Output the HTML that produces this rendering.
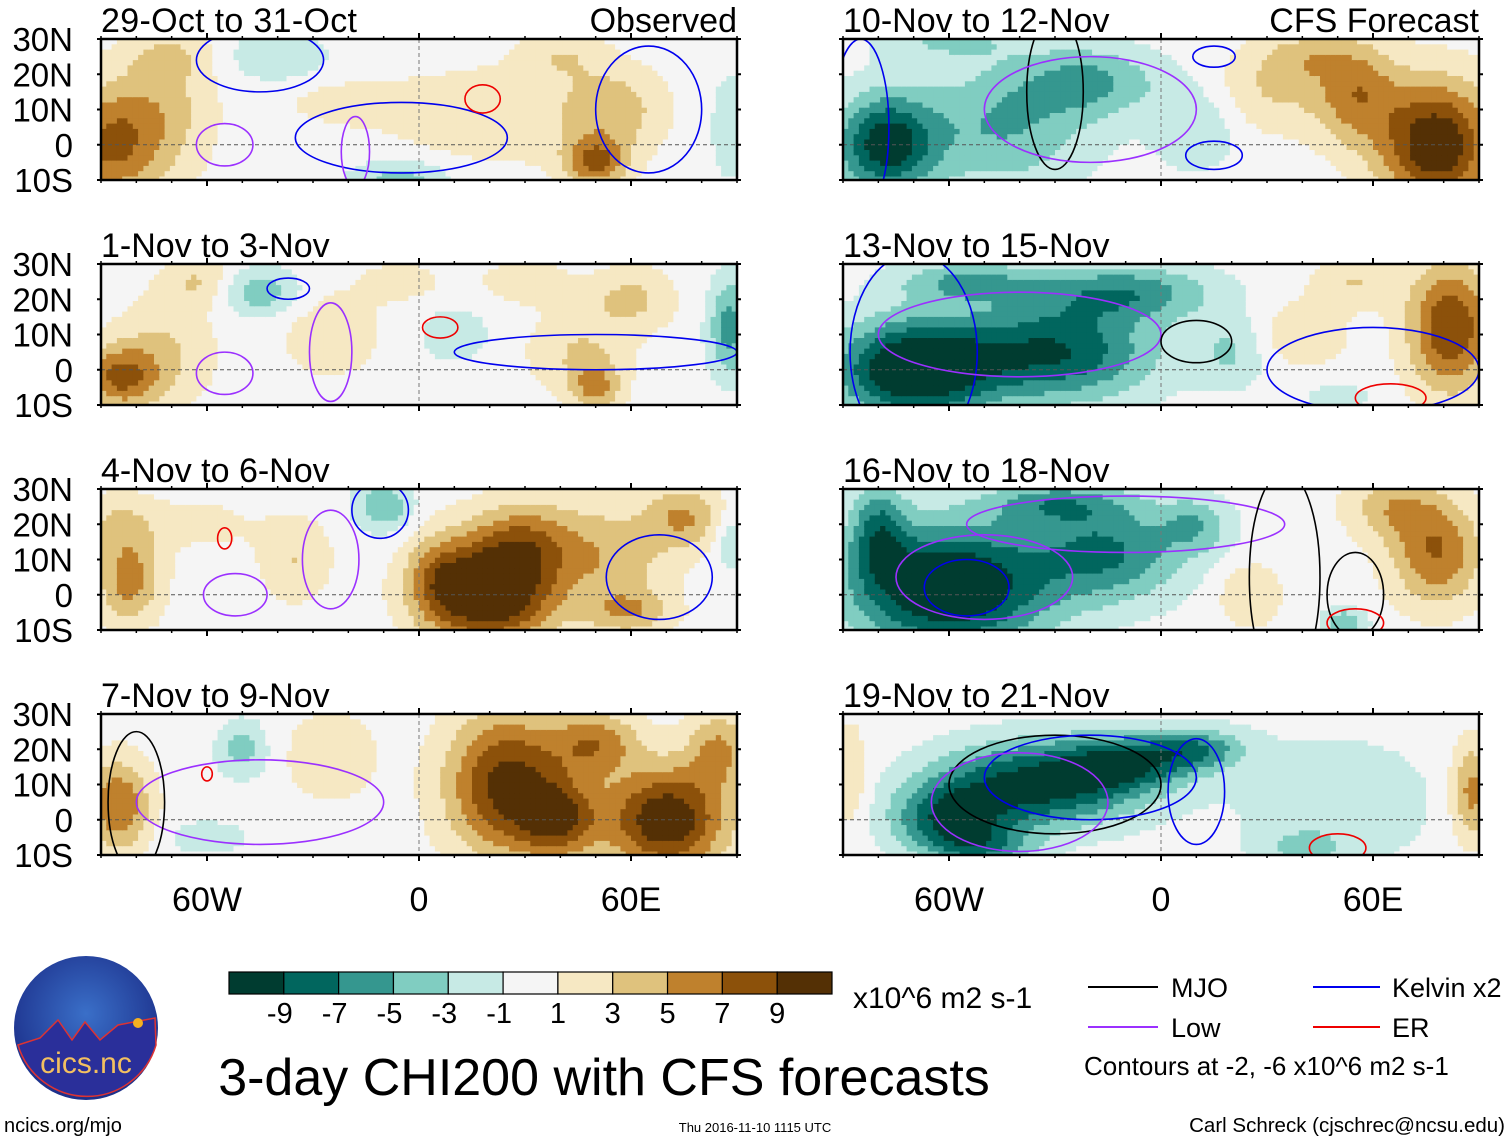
<!DOCTYPE html>
<html><head><meta charset="utf-8">
<style>
body{margin:0;background:#fff;width:1510px;height:1142px;overflow:hidden;font-family:"Liberation Sans",sans-serif}
svg{position:absolute;left:0;top:0}
</style></head>
<body>
<svg id="chart" width="1510" height="1142" xmlns="http://www.w3.org/2000/svg" font-family="Liberation Sans, sans-serif"></svg>
<script>
// ---- data ----
const panelTitles = ["29-Oct to 31-Oct","1-Nov to 3-Nov","4-Nov to 6-Nov","7-Nov to 9-Nov","10-Nov to 12-Nov","13-Nov to 15-Nov","16-Nov to 18-Nov","19-Nov to 21-Nov"];
const colorLevels = [-9,-7,-5,-3,-1,1,3,5,7,9];
const colorBins = ["#003c30","#01665e","#35978f","#80cdc1","#c7eae5","#f5f5f5","#f6e8c3","#dfc27d","#bf812d","#8c510a","#543005"];
const latTicks = [30,20,10,0,-10];
const latTickLabels = ["30N","20N","10N","0","10S"];
const lonTicks = [-60,0,60];
const lonTickLabels = ["60W","0","60E"];
// anomaly blobs per panel: [lon, lat, amplitude, rLon, rLat]
const blobs0 = [[-88,0,7,14,16],[-72,10,3.5,14,20],[-40,25,-3,14,7],[-5,-10,-4,14,6],[-20,12,2,18,6],[20,8,2.5,30,14],[50,-5,7,9,7],[55,10,4,14,12],[40,25,2.5,12,7],[88,5,-3,5,14],[-70,25,2,12,6]];
const blobs1 = [[-85,-2,7,11,9],[-72,5,3,14,16],[-45,22,-4.5,11,7],[-62,25,3,10,7],[-25,10,2.5,14,12],[10,10,-2.5,10,8],[88,12,-6,6,14],[45,5,3,14,12],[60,20,3.5,12,9],[50,-5,5,7,7],[30,25,2.5,12,6],[-5,25,2,12,6]];
const blobs2 = [[-82,4,6,9,12],[-85,20,3,12,9],[-10,25,-5,8,7],[-35,10,3,10,12],[20,0,12,18,14],[30,15,6,16,12],[5,5,4,9,12],[55,10,4,16,16],[75,22,5,11,9],[88,15,-3,4,8],[60,-5,4,12,6],[-60,20,1.5,15,8]];
const blobs3 = [[-85,4,7,9,13],[-50,20,-4,7,8],[-25,18,3,12,12],[25,10,10,17,20],[70,0,11,17,15],[50,22,6,12,9],[40,0,7,11,11],[85,20,5,9,11],[-60,-5,-2.2,12,5]];
const blobs4 = [[-78,0,-10,14,14],[-45,5,-5,25,18],[-20,18,-5,20,10],[10,5,-3,12,12],[30,15,3,16,12],[78,0,11,16,18],[55,15,6,12,15],[40,25,3,12,7],[-60,30,-3,20,6]];
const blobs5 = [[-70,0,-12,22,14],[-30,5,-9,28,14],[-10,22,-6,25,8],[-55,25,-5,20,6],[40,10,3,12,9],[82,12,9,12,18],[55,25,3,12,7],[50,-8,-3,8,4],[20,5,-3,10,10]];
const blobs6 = [[-60,2,-12,28,18],[-15,12,-7,22,14],[-30,26,-5,20,6],[-80,18,-6,8,14],[25,0,3,9,9],[78,12,7,13,15],[65,25,4,13,9],[52,-8,-5,6,4],[10,20,-4,10,8]];
const blobs7 = [[-35,10,-10,28,12],[-60,0,-8,16,10],[-10,16,-7,18,8],[10,20,-6,14,6],[50,5,-2.2,30,20],[-88,12,3,5,15],[88,8,6,6,14],[40,-8,-3,12,5],[-50,-8,-5,14,6]];
const panelBlobs = [blobs0,blobs1,blobs2,blobs3,blobs4,blobs5,blobs6,blobs7];
// contours per panel: [type, lon, lat, rLon, rLat]
const contours0 = [["kelvin",-45,24,18,9],["kelvin",-5,2,30,10],["low",-55,0,8,6],["low",-18,-2,4,10],["er",18,13,5,4],["kelvin",65,10,15,18]];
const contours1 = [["kelvin",-37,23,6,3],["low",-55,-1,8,6],["low",-25,5,6,14],["er",6,12,5,3],["kelvin",50,5,40,5]];
const contours2 = [["er",-55,16,2,3],["low",-52,0,9,6],["low",-25,10,8,14],["kelvin",-11,24,8,8],["kelvin",68,5,15,12]];
const contours3 = [["er",-60,13,1.5,2],["low",-45,5,35,12],["mjo",-80,5,8,20]];
const contours4 = [["kelvin",-85,5,8,25],["mjo",-30,15,8,22],["low",-20,10,30,15],["kelvin",15,-3,8,4],["kelvin",15,25,6,3]];
const contours5 = [["kelvin",-70,5,18,28],["low",-40,10,40,12],["mjo",10,8,10,6],["kelvin",60,0,30,12],["er",65,-8,10,4]];
const contours6 = [["kelvin",-55,2,12,8],["low",-50,5,25,12],["low",-10,20,45,8],["mjo",35,5,10,30],["mjo",55,0,8,12],["er",55,-8,8,4]];
const contours7 = [["mjo",-30,10,30,14],["kelvin",-20,12,30,12],["low",-40,5,25,14],["kelvin",10,8,8,15],["er",50,-8,8,4]];
const panelContours = [contours0,contours1,contours2,contours3,contours4,contours5,contours6,contours7];
const contourColors = {mjo:"#000",kelvin:"#0000ee",low:"#9b30ff",er:"#ee0000"};

// ---- layout ----
const NS="http://www.w3.org/2000/svg";
const svg=document.getElementById('chart');
function mk(t,a,p){const e=document.createElementNS(NS,t);for(const k in a)e.setAttribute(k,a[k]);(p||svg).appendChild(e);return e;}
const colX=[101,843], rowY=[39,264,489,714], PW=636, PH=141;
function xScale(c,lon){return colX[c]+(lon+90)/180*PW;}
function yScale(r,lat){return rowY[r]+(30-lat)/40*PH;}
function binColor(v){let i=0;while(i<colorLevels.length&&v>=colorLevels[i])i++;return colorBins[i];}

const defs=mk('defs',{});
for(let p=0;p<8;p++){
  const c=p<4?0:1, r=p%4;
  const g=mk('g',{});
  
  
  const cp=mk('clipPath',{id:'clip'+p},defs);
  mk('rect',{x:colX[c],y:rowY[r],width:PW,height:PH},cp);
  const fg=mk('g',{'clip-path':'url(#clip'+p+')'},g);
  
  
  const step=1.5;
  for(let lon=-90;lon<90;lon+=step){
    for(let lat=30;lat>-10;lat-=step){
      const lo=lon+step/2, la=lat-step/2;
      let v=0;
      for(const b of panelBlobs[p]){const dx=(lo-b[0])/b[3],dy=(la-b[1])/b[4];v+=b[2]*Math.exp(-(dx*dx+dy*dy));}
      const x0=xScale(c,lon),x1=xScale(c,lon+step),y0=yScale(r,lat),y1=yScale(r,lat-step);
      const cell=mk('rect',{x:x0.toFixed(1),y:y0.toFixed(1),width:(x1-x0+0.6).toFixed(1),height:(y1-y0+0.6).toFixed(1),fill:binColor(v)},fg);
      
      
    }
  }
  mk('line',{x1:colX[c],x2:colX[c]+PW,y1:yScale(r,0),y2:yScale(r,0),stroke:'#555','stroke-dasharray':'4,3','stroke-width':1},fg);
  mk('line',{x1:xScale(c,0),x2:xScale(c,0),y1:rowY[r],y2:rowY[r]+PH,stroke:'#777','stroke-dasharray':'4,3','stroke-width':1},fg);
  for(const ct of panelContours[p]){
    const cx=xScale(c,ct[1]),cy=yScale(r,ct[2]),rx=ct[3]/180*PW,ry=ct[4]/40*PH;
    const e=mk('ellipse',{cx:cx,cy:cy,rx:rx,ry:ry,fill:'none',stroke:contourColors[ct[0]],'stroke-width':1.6},fg);
    
    
  }
  const fr=mk('rect',{x:colX[c],y:rowY[r],width:PW,height:PH,fill:'none',stroke:'#000','stroke-width':2.5},g);
  
  
  for(let lon=-90;lon<=90;lon+=10){
    const x=xScale(c,lon), big=lon%60===0;
    mk('line',{x1:x,x2:x,y1:rowY[r]+PH,y2:rowY[r]+PH+(big?6:3),stroke:'#000','stroke-width':big?2:1.5},g);
    mk('line',{x1:x,x2:x,y1:rowY[r],y2:rowY[r]-(big?6:3),stroke:'#000','stroke-width':big?2:1.5},g);
  }
  for(let lat=-10;lat<=30;lat+=10){
    const y=yScale(r,lat);
    mk('line',{x1:colX[c]-4,x2:colX[c],y1:y,y2:y,stroke:'#000','stroke-width':2},g);
    mk('line',{x1:colX[c]+PW,x2:colX[c]+PW+4,y1:y,y2:y,stroke:'#000','stroke-width':2},g);
  }
  const t=mk('text',{x:colX[c],y:rowY[r]-7,'font-size':34,textLength:colX[c]===101&&p===0?256:null},g);
  if(!t.getAttribute('textLength')||t.getAttribute('textLength')==='null')t.removeAttribute('textLength');
  t.textContent=panelTitles[p];
  
  
  if(r===0){const s=mk('text',{x:colX[c]+PW,y:rowY[r]-7,'font-size':34,'text-anchor':'end'},g);s.textContent=c===0?'Observed':'CFS Forecast';
    
    }
  if(c===0){
    latTicks.forEach((lat,i)=>{const l=mk('text',{x:73,y:yScale(r,lat)+12,'font-size':33,'text-anchor':'end'},g);l.textContent=latTickLabels[i];
      
      });
  }
  if(r===3){
    lonTicks.forEach((lon,i)=>{const l=mk('text',{x:xScale(c,lon),y:911,'font-size':34,'text-anchor':'middle'},g);l.textContent=lonTickLabels[i];
      
      });
  }
}
const cb=mk('g',{});


const cbX=229,cbW=603,cbY=972,cbH=22,bw=cbW/colorBins.length;
colorBins.forEach((col,i)=>{const b=mk('rect',{x:cbX+i*bw,y:cbY,width:bw,height:cbH,fill:col,stroke:'#000','stroke-width':1.2},cb);
  
  });
colorLevels.forEach((lv,i)=>{const t=mk('text',{x:cbX+(i+1)*bw-(lv<0?4:0),y:1023,'font-size':29,'text-anchor':'middle'},cb);t.textContent=String(lv);
  
  });
</script>
<svg width="1510" height="1142" xmlns="http://www.w3.org/2000/svg" font-family="Liberation Sans, sans-serif" style="pointer-events:none">
 <text x="853" y="1008" font-size="30">x10^6 m2 s-1</text>
 <text x="604" y="1095" font-size="52" text-anchor="middle">3-day CHI200 with CFS forecasts</text>
 <g font-size="27">
  <line x1="1088" y1="987" x2="1158" y2="987" stroke="#000" stroke-width="2"/><text x="1171" y="997">MJO</text>
  <line x1="1313" y1="987" x2="1380" y2="987" stroke="#0000ee" stroke-width="2"/><text x="1392" y="997">Kelvin x2</text>
  <line x1="1088" y1="1027" x2="1158" y2="1027" stroke="#9b30ff" stroke-width="2"/><text x="1171" y="1037">Low</text>
  <line x1="1313" y1="1027" x2="1380" y2="1027" stroke="#ee0000" stroke-width="2"/><text x="1392" y="1037">ER</text>
  <text x="1084" y="1075" font-size="26">Contours at -2, -6 x10^6 m2 s-1</text>
 </g>
 <text x="1505" y="1132" font-size="20.5" text-anchor="end">Carl Schreck (cjschrec@ncsu.edu)</text>
 <text x="755" y="1132" font-size="13" text-anchor="middle">Thu 2016-11-10 1115 UTC</text>
 <text x="4" y="1132" font-size="20">ncics.org/mjo</text>
 <g>
  <defs><radialGradient id="lg" cx="50%" cy="40%" r="60%"><stop offset="0" stop-color="#3a6fc8"/><stop offset="1" stop-color="#1c2f8a"/></radialGradient></defs>
  <circle cx="86" cy="1028" r="72" fill="url(#lg)"/>
  <path d="M18,1045 L40,1038 L58,1020 L72,1040 L85,1022 L100,1040 L118,1025 L155,1018 L156,1045 A72,72 0 0 1 18,1045Z" fill="#2a2f9a" stroke="#d33" stroke-width="1.5"/>
  <circle cx="138" cy="1023" r="5" fill="#f5b020"/>
  <text x="86" y="1073" font-size="30" fill="#f3c060" text-anchor="middle">cics.nc</text>
 </g>
</svg>
</body></html>
